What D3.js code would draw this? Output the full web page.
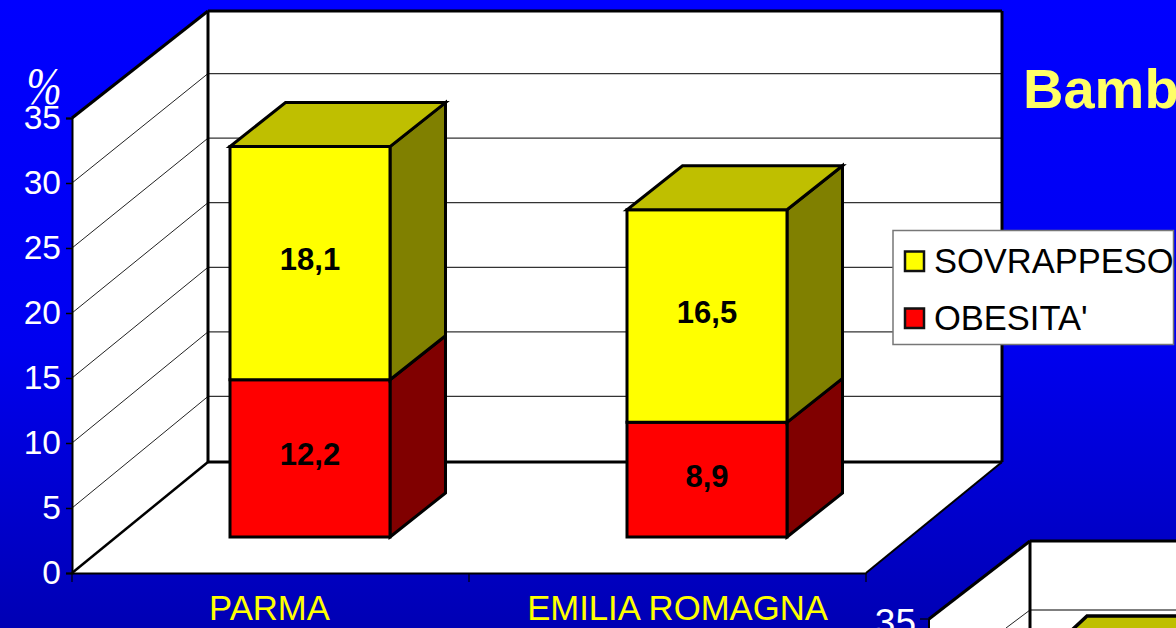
<!DOCTYPE html>
<html><head><meta charset="utf-8">
<script src="https://cdn.jsdelivr.net/npm/d3@7"></script>
<style>html,body{margin:0;padding:0;overflow:hidden}svg{display:block}text{font-family:"Liberation Sans",Arial,sans-serif}</style>
</head><body><svg id="c" width="1176" height="628"></svg>
<script>
const categories=["PARMA","EMILIA ROMAGNA"];
const obesita=[12.2,8.9];
const sovrappeso=[18.1,16.5];
const seriesNames=["SOVRAPPESO","OBESITA'"];
const yTicks=[0,5,10,15,20,25,30,35];
const gridTicks=[5,10,15,20,25,30];
const insetTick=[30];
const title="Bamb";

const svg=d3.select("#c");
const defs=svg.append("defs");
const grad=defs.append("linearGradient").attr("id","bg").attr("x1",0).attr("y1",0).attr("x2",0).attr("y2",1);
grad.append("stop").attr("offset","0").attr("stop-color","#0000ff");
grad.append("stop").attr("offset","0.55").attr("stop-color","#0000f0");
grad.append("stop").attr("offset","1").attr("stop-color","#0000b4");
svg.append("rect").attr("width",1176).attr("height",628).attr("fill","url(#bg)");

const yFront=d3.scaleLinear().domain([0,35]).range([573,118]);
const yBack=d3.scaleLinear().domain([0,35]).range([461,9]);
const yBar=d3.scaleLinear().domain([0,35]).range([537,86]);
const x=d3.scaleBand().domain(categories).range([72,866]);
const fx=72,bx=208,fr=866,br=1002;
const poly=(g,pts,fill,sw=2.5,stroke="#000")=>g.append("polygon").attr("points",pts.map(p=>p.join(",")).join(" ")).attr("fill",fill).attr("stroke",stroke).attr("stroke-width",sw).attr("stroke-linejoin","miter");
const line=(g,a,b,sw,stroke="#000")=>g.append("line").attr("x1",a[0]).attr("y1",a[1]).attr("x2",b[0]).attr("y2",b[1]).attr("stroke",stroke).attr("stroke-width",sw);

const g=svg.append("g");
const ftop=yFront(35),fbot=yFront(0),btop=11,bbot=yBack(0)+1;
// walls and floor
g.append("polygon").attr("points",[[fx,ftop],[bx,btop],[br,btop],[br,bbot],[fr,fbot],[fx,fbot]].map(p=>p.join(",")).join(" ")).attr("fill","#fff");
gridTicks.forEach(v=>{
  line(g,[fx,yFront(v)],[bx,yBack(v)],1,"#222");
  line(g,[bx,yBack(v)],[br,yBack(v)],1.2,"#333");
});
line(g,[fx,ftop],[bx,btop],3);
line(g,[bx,btop],[br,btop],3);
line(g,[br,btop],[br,bbot],3);
line(g,[bx,btop],[bx,bbot],3);
line(g,[bx,bbot],[br,bbot],3);
line(g,[fx,fbot],[bx,bbot],2.5);
line(g,[fr,fbot],[br,bbot],2);

// axes
const ay=g.append("g").attr("transform",`translate(${fx},0)`).call(d3.axisLeft(yFront).tickValues(yTicks).tickSize(6).tickPadding(5));
ay.select(".domain").attr("stroke","#000").attr("stroke-width",2);
ay.selectAll("line").attr("stroke","#000").attr("stroke-width",1.5);
ay.selectAll("text").attr("fill","#fff").style("font-size","33.5px").style("font-family",'"Liberation Sans"').attr("dy","0.31em");

const ax=g.append("g").attr("transform",`translate(0,${fbot})`).call(d3.axisBottom(x).tickSize(0).tickPadding(22));
ax.select(".domain").attr("stroke","#000").attr("stroke-width",2);
ax.selectAll("text").attr("fill","#ffff00").style("font-size","34.7px").style("font-family",'"Liberation Sans"').attr("dx",(d,i)=>i?10:-1);
[fx,x(categories[1]),fr].forEach(t=>line(g,[t,fbot],[t,fbot+9],1.2));

// stacked bars
const dx=55.5,dy=-44,bw=160,inset=158;
categories.forEach((c,i)=>{
  const x0=x(c)+inset,x1=x0+bw;
  const stacks=[[0,obesita[i],obesita[i],"#ff0000","#800000"],[obesita[i],obesita[i]+sovrappeso[i],sovrappeso[i],"#ffff00","#808000"]];
  stacks.forEach(([a,b,v,f,s])=>{
    const ya=yBar(a),yb=yBar(b);
    poly(g,[[x1,ya],[x1+dx,ya+dy],[x1+dx,yb+dy],[x1,yb]],s,3);
    poly(g,[[x0,ya],[x1,ya],[x1,yb],[x0,yb]],f,3);
    g.append("text").attr("x",(x0+x1)/2).attr("y",(ya+yb)/2+7).attr("text-anchor","middle").attr("font-size",31).attr("font-weight","bold").attr("fill","#000").text(String(v).replace(".",","));
  });
  const yt=yBar(stacks[1][1]);
  poly(g,[[x0,yt],[x1,yt],[x1+dx,yt+dy],[x0+dx,yt+dy]],"#bfbf00",3);
});

// % label
g.append("text").attr("transform","translate(44,104) scale(0.88,1.08)").attr("text-anchor","middle").attr("fill","#fff").style("font-family",'"Liberation Serif"').style("font-style","italic").attr("font-size",48).text("%");

// title
g.append("text").attr("x",1023).attr("y",108).attr("font-size",56).attr("font-weight","bold").attr("fill","#ffff66").text(title);

// legend
const lg=svg.append("g");
lg.append("rect").attr("x",893).attr("y",230.5).attr("width",280.5).attr("height",114).attr("fill","#fff").attr("stroke","#777").attr("stroke-width",1.5);
const lc=["#ffff00","#ff0000"];
const legendY=d3.scaleOrdinal().domain(seriesNames).range([251.5,308.5]);
seriesNames.forEach((n,i)=>{
  const yy=legendY(n);
  lg.append("rect").attr("x",905).attr("y",yy).attr("width",19).attr("height",19.5).attr("fill",lc[i]).attr("stroke","#111").attr("stroke-width",2.5);
  lg.append("text").attr("x",934).attr("y",yy+21.5).attr("font-size",34.5).attr("fill","#000").text(n);
});

// second chart, cropped by the page edge
const ig=svg.append("g");
const yi=d3.scaleLinear().domain([35,30]).range([541,610]);
const ifx=929,ify=619,ibx=1030,iw=1176;
ig.append("polygon").attr("points",[[ifx,ify],[ibx,541],[iw,541],[iw,630],[ifx,630]].map(p=>p.join(",")).join(" ")).attr("fill","#fff");
insetTick.forEach(v=>{
  line(ig,[ibx,yi(v)],[iw,yi(v)],1.2,"#000");
  line(ig,[ibx,yi(v)],[ibx-24,628],1,"#222");
});
line(ig,[ifx,ify],[ibx,541],3);
line(ig,[ibx,541],[iw,541],3);
line(ig,[ibx,541],[ibx,630],3);
line(ig,[ifx,ify],[ifx,630],2);
line(ig,[ifx-9,ify],[ifx,ify],1.2);
ig.append("text").attr("x",916).attr("y",635).attr("text-anchor","end").attr("fill","#fff").attr("font-size",37).text("35");
poly(ig,[[1087,616],[1180,616],[1180,640],[1072,630]],"#bfbf00",3.5);
</script></body></html>
